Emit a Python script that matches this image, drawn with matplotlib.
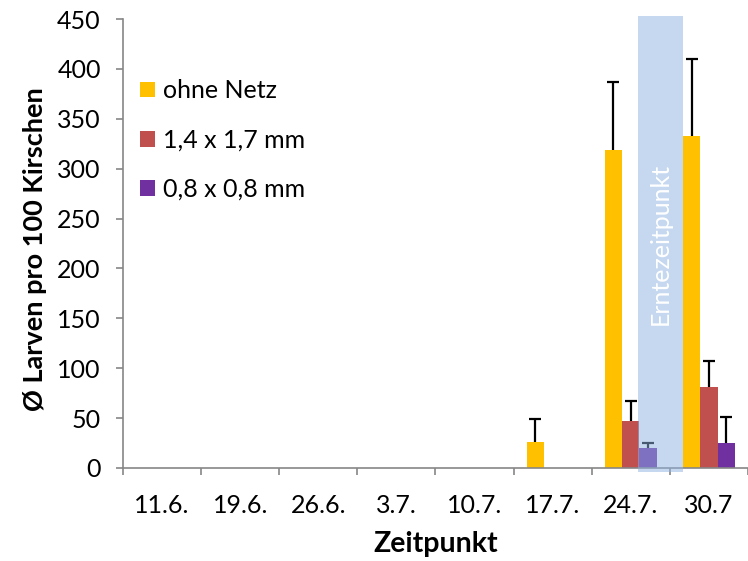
import numpy as np
import matplotlib.pyplot as plt
from matplotlib.patches import Patch

plt.rcParams['font.family'] = ['Lato', 'DejaVu Sans']

# data
dates = ['11.6.', '19.6.', '26.6.', '3.7.', '10.7.', '17.7.', '24.7.', '30.7']
ohne_netz = [0, 0, 0, 0, 0, 26, 319, 333]
ohne_netz_err = [0, 0, 0, 0, 0, 23, 68, 77]
netz_14 = [0, 0, 0, 0, 0, 0, 47, 81]
netz_14_err = [0, 0, 0, 0, 0, 0, 20, 26]
netz_08 = [0, 0, 0, 0, 0, 0, 20, 25]
netz_08_err = [0, 0, 0, 0, 0, 0, 5, 26]
labels = ['ohne Netz', '1,4 x 1,7 mm', '0,8 x 0,8 mm']
colors = ['#FFC000', '#C0504D', '#7030A0']
harvest_span = (6.094, 6.668)

fig = plt.figure(figsize=(7.48, 5.61), dpi=100)
ax = fig.add_axes([0.1644, 0.1658, 0.8356, 0.8003])

x = np.arange(len(dates))
w = 0.222
series = [(ohne_netz, ohne_netz_err), (netz_14, netz_14_err), (netz_08, netz_08_err)]
for k, (vals, errs) in enumerate(series):
    xs = x + (k - 1) * w
    ax.bar(xs, vals, width=w, color=colors[k], linewidth=0, zorder=2)
    vals = np.array(vals)
    errs = np.array(errs)
    m = errs > 0
    # only the upper half of the error bar, with a cap on top
    ax.vlines(xs[m], vals[m], vals[m] + errs[m], color='black', linewidth=1.6, zorder=3)
    ax.plot(xs[m], vals[m] + errs[m], linestyle='none', marker='_', markersize=9,
            markeredgewidth=1.6, color='black', zorder=3)

# harvest time band
ax.axvspan(harvest_span[0], harvest_span[1], ymin=-0.009, ymax=1.007,
           color='#8DB3E3', alpha=0.5, linewidth=0, zorder=4, clip_on=False)
ax.text(sum(harvest_span) / 2, 225, 'Erntezeitpunkt', rotation=90, color='white',
        ha='center', va='center', fontsize=18, zorder=5)

ax.set_xlim(-0.5, len(dates) - 0.5)
ax.set_ylim(0, 450)
ax.set_yticks(np.arange(0, 451, 50))
ax.set_xticks(x)
ax.set_xticklabels(dates)
ax.set_xticks(np.arange(-0.5, len(dates)), minor=True)
ax.tick_params(axis='x', which='major', length=0, pad=19, labelsize=18)
ax.tick_params(axis='x', which='minor', length=5, width=1.2, color='#868686', direction='out')
ax.tick_params(axis='y', length=5, width=1.2, color='#868686', direction='out', pad=11, labelsize=18)

for s in ['top', 'right']:
    ax.spines[s].set_visible(False)
for s in ['left', 'bottom']:
    ax.spines[s].set_color('#868686')
    ax.spines[s].set_linewidth(1.2)

ax.set_xlabel('Zeitpunkt', fontsize=20.5, fontweight='bold')
ax.xaxis.set_label_coords(0.5, -0.140)
ax.set_ylabel('Ø Larven pro 100 Kirschen', fontsize=19.5, fontweight='bold')
ax.yaxis.set_label_coords(-0.121, 0.487)

handles = [Patch(color=c, linewidth=0) for c in colors]
ax.legend(handles, labels, loc='upper left', bbox_to_anchor=(0.012, 0.888), frameon=False,
          fontsize=18, handlelength=0.6, handleheight=0.6, handletextpad=0.3,
          labelspacing=1.05, borderaxespad=0)

fig.savefig('out.png', dpi=100)
